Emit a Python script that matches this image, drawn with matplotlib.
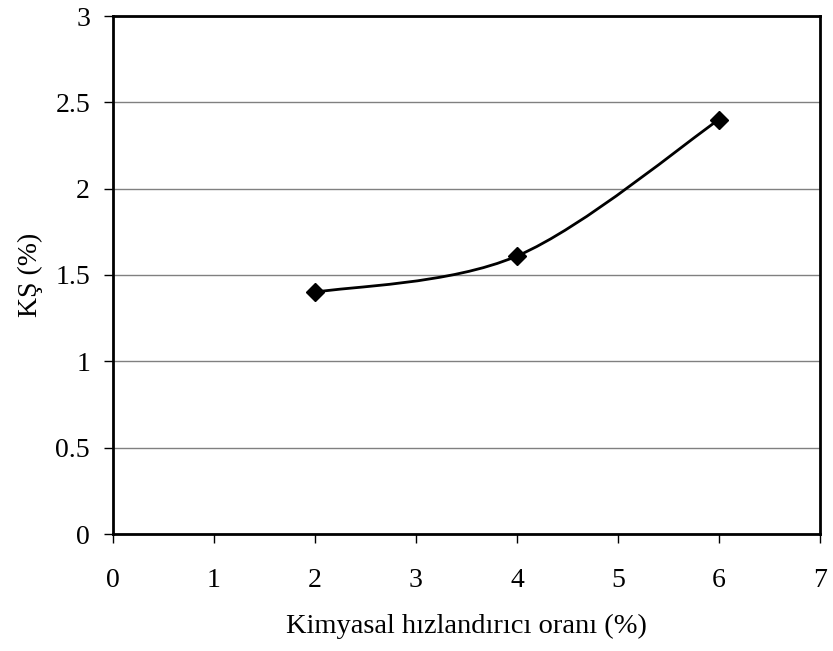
import numpy as np
import matplotlib
matplotlib.use("Agg")
import matplotlib.pyplot as plt
from matplotlib.path import Path
from matplotlib.patches import PathPatch

x_vals = [2, 4, 6]
y_vals = [1.4, 1.61, 2.4]
x_ticks = [0, 1, 2, 3, 4, 5, 6, 7]
y_ticks = [0, 0.5, 1, 1.5, 2, 2.5, 3]
y_ticklabels = ["0", "0.5", "1", "1.5", "2", "2.5", "3"]
x_label = "Kimyasal hızlandırıcı oranı (%)"
y_label = "KŞ (%)"

plt.rcParams['font.family'] = ['Liberation Serif', 'DejaVu Serif']

fig = plt.figure(figsize=(8.33, 6.51), dpi=100)
ax = fig.add_axes([113/833, 1-534/651, (820-113)/833, (534-16)/651])
ax.set_xlim(0, 7)
ax.set_ylim(0, 3)

# Excel-style smoothed line (cardinal Bezier through the points)
pts = np.column_stack([x_vals, y_vals]).astype(float)
n = len(pts)
verts = [tuple(pts[0])]
codes = [Path.MOVETO]
t = 1/6
for i in range(n - 1):
    p0 = pts[i - 1] if i > 0 else pts[i]
    p1 = pts[i]
    p2 = pts[i + 1]
    p3 = pts[i + 2] if i + 2 < n else pts[i + 1]
    c1 = p1 + (p2 - p0) * t
    c2 = p2 - (p3 - p1) * t
    verts += [tuple(c1), tuple(c2), tuple(p2)]
    codes += [Path.CURVE4] * 3
ax.add_patch(PathPatch(Path(verts, codes), fill=False, edgecolor='black', lw=2, zorder=3))
ax.plot(x_vals, y_vals, linestyle='none', marker='D', markersize=9, color='black', zorder=4)

ax.set_xticks(x_ticks)
ax.set_yticks(y_ticks)
ax.set_yticklabels(y_ticklabels)
ax.grid(axis='y', color='#808080', lw=1)
ax.set_axisbelow(True)
for s in ax.spines.values():
    s.set_linewidth(2)
    s.set_color('black')
ax.tick_params(axis='both', direction='out', length=6.5, width=1, labelsize=20)
ax.tick_params(axis='x', pad=18)
ax.tick_params(axis='y', pad=10)
ax.set_xlabel(x_label, fontsize=20.5, labelpad=15)
ax.set_ylabel(y_label, fontsize=20, labelpad=9)

fig.savefig("out.png", dpi=100)
